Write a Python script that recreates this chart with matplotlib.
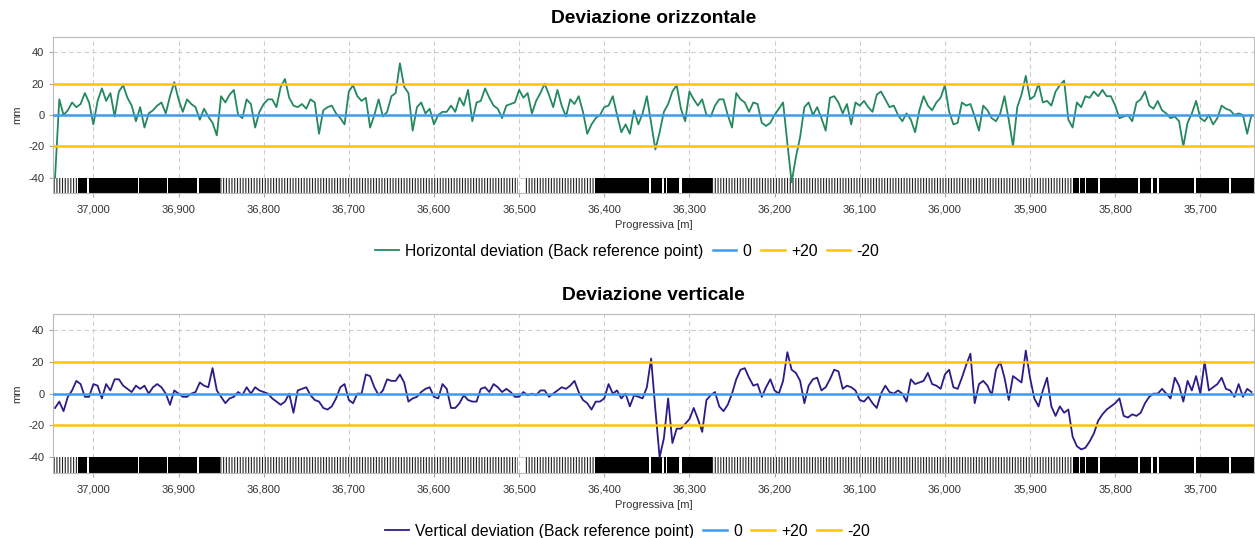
import numpy as np
import matplotlib
matplotlib.use('Agg')
import matplotlib.pyplot as plt
from matplotlib.ticker import FuncFormatter, MultipleLocator

plt.rcParams['font.family'] = ['Liberation Sans', 'DejaVu Sans']
plt.rcParams['hatch.linewidth'] = 0.8
plt.rcParams['axes.unicode_minus'] = False

# progressiva dei punti di misura [m], passo 5 m
chainage_start = 37045
chainage_step = 5

# deviazione orizzontale [mm]
horizontal_dev = [
    -40, 10, 0, 3, 8, 5, 7, 14, 8, -6, 9, 17, 9, 14, -1, 15, 19, 11, 6, -4,
    5, -8, 1, 3, 6, 8, 1, 12, 21, 10, 2, 10, 7, 5, -3, 4, -1, -5, -13, 12,
    8, 13, 16, 0, -2, 10,
    7, -8, 2, 7, 10, 10, 5, 18, 23, 11, 6, 5, 7, 4, 10, 8, -12, 3, 5, 6,
    1, -2, -6, 15, 19, 12, 9, 11, -8, 0, 10, -1, 2, 12, 14, 33, 18, 14, -10, 5,
    8, 1, 4, -6, 0, 2, 2,
    6, 2, 11, 6, 16, -4, 8, 9, 17, 11, 6, 4, -2, 6, 7, 8, 16, 11, 14, 1,
    9, 14, 20, 13, 5, 16, 6, -1, 10, 7, 12, 2, -12, -6, -2, 0, 5, 6, 12, 0,
    -11, -6, -12, 3, -6, 1, 12,
    -5, -22, -11, 2, 7, 15, 19, 4, -4, 15, 10, 6, 10, 0, -1, 6, 10, 10, 0, -8,
    14, 10, 8, 2, 8, 7, -5, -7, -5, 0, 4, 8, -18, -43, -27, -14, 5, 8, 0, 5,
    -2, -10, 11, 12, 8, 1, 7,
    -6, 8, 6, 9, 5, 2, 13, 15, 10, 5, 6, 0, -4, 1, -3, -11, 3, 12, 6, 3,
    8, 11, 19, 2, -6, -5, 8, 6, 7, -1, -10, 6, 3, -2, -4, 1, 12, -3, -20, 5,
    13, 25, 10, 12, 20, 8, 9,
    6, 15, 19, 22, -3, -8, 8, 5, 12, 11, 15, 12, 16, 12, 12, 6, -2, -1, 0, -4,
    8, 10, 15, 6, 4, 9, 3, 1, -2, -1, -4, -20, -5, 1, 9, -2, -4, 0, -6, -2,
    6, 4, 3, 0, 1, 0, -12, 0,
]

# deviazione verticale [mm]
vertical_dev = [
    -9, -5, -11, -2, 2, 8, 6, -2, -2, 6, 5, -3, 6, 2, 9, 9, 5, 3, 1, 5,
    3, 5, 0, 4, 6, 4, 0, -7, 2, 0, -2, -2, 0, 1, 7, 5, 4, 16, 2, -2,
    -6, -3, -2, 1, -1, 4,
    0, 4, 2, 1, 0, -3, -5, -7, -5, 0, -12, 2, 3, 4, -1, -4, -5, -9, -10, -8,
    -3, 4, 6, -4, -6, 0, 0, 12, 11, 4, -1, 2, 9, 8, 8, 12, 7, -5, -3, -2,
    1, 3, 4, -2, -3, 6, 3,
    -9, -9, -6, -1, -4, -5, -5, 3, 4, 1, 6, 4, 1, 3, 1, -2, -2, 1, -1, 0,
    -1, 2, 2, -2, 0, 2, 4, 3, 5, 8, 1, -4, -6, -10, -5, -5, -3, 6, 0, 2,
    -3, 0, -8, -1, -2, -3, 4,
    22, -10, -40, -28, -3, -31, -22, -22, -19, -16, -9, -16, -24, -4, -1, 1, -8, -11, -7, 0,
    9, 15, 16, 10, 5, 6, -2, 4, 9, 2, 0, 8, 26, 15, 13, 8, -6, 5, 9, 10,
    2, 4, 9, 15, 14, 3, 5,
    4, 2, -4, -5, -2, -6, -9, 0, 5, 1, 0, 2, 0, -5, 9, 6, 7, 8, 13, 6,
    5, 3, 12, 15, 4, 3, 10, 18, 25, -6, 6, 8, 5, -1, 15, 20, 10, -4, 11, 9,
    7, 27, 10, -3, -8, 2, 10,
    -8, -14, -8, -12, -10, -27, -33, -35, -34, -30, -25, -17, -13, -10, -8, -6, -3, -14, -15, -13,
    -14, -12, -6, -2, 0, 0, 3, 0, -3, 10, 5, -5, 8, 2, 11, 0, 20, 2, 4, 6,
    10, 3, 2, -2, 6, -2, 3, 1,
]

# tratti con misure fitte (barra nera) e rade (barra tratteggiata) [m]
dense_spans = [
    (37018, 37007), (37005, 36948), (36946, 36914), (36912, 36878), (36876, 36851),
    (36411, 36347), (36345, 36332), (36330, 36328), (36326, 36312), (36309, 36273),
    (35849, 35843), (35841, 35836), (35834, 35820), (35818, 35773), (35771, 35758),
    (35756, 35751), (35749, 35707), (35705, 35666), (35664, 35630),
]
sparse_spans = [(37050, 37018), (36851, 36501), (36493, 36411), (36273, 35849)]

# soglie
limit_values = [0, 20, -20]
limit_labels = ['0', '+20', '-20']
limit_colors = ['#3d9bf0', '#ffc400', '#ffc400']

x_left, x_right = 37047, 35637

chainage = chainage_start - chainage_step * np.arange(len(horizontal_dev))


def draw_panel(fig, rect, title, values, color, label, legend_y):
    ax = fig.add_axes(rect)

    # barra dei punti di misura
    ax.broken_barh([(s, e - s) for s, e in dense_spans], (-50, 10),
                   facecolors='black', edgecolor='none', zorder=1.5)
    ax.broken_barh([(s, e - s) for s, e in sparse_spans], (-50, 10),
                   facecolors='white', edgecolor='#222222', linewidth=0,
                   hatch='||||||', zorder=1.4)

    ax.plot(chainage, values, color=color, linewidth=1.3, label=label, zorder=2)
    for v, lab, c in zip(limit_values, limit_labels, limit_colors):
        ax.axhline(v, color=c, linewidth=1.8, label=lab, zorder=3)

    ax.set_xlim(x_left, x_right)
    ax.set_ylim(-50, 50)
    ax.set_yticks([-40, -20, 0, 20, 40])
    ax.xaxis.set_major_locator(MultipleLocator(100))
    ax.xaxis.set_major_formatter(FuncFormatter(lambda v, p: f'{v:,.0f}'))
    ax.grid(True, color='#cccccc', linestyle=(0, (4, 3)), linewidth=0.8)
    ax.set_axisbelow(True)
    ax.tick_params(labelsize=8, colors='#333333', length=3, color='#aaaaaa')
    ax.tick_params(axis='x', pad=5)
    for sp in ax.spines.values():
        sp.set_color('#bbbbbb')
    ax.set_xlabel('Progressiva [m]', fontsize=8, color='#333333', labelpad=4)
    ax.set_ylabel('mm', fontsize=8, color='#333333', labelpad=4)
    ax.set_title(title, fontsize=13.8, fontweight='bold', pad=10)

    ax.legend(loc='center', bbox_to_anchor=(0.5, legend_y), bbox_transform=fig.transFigure,
              ncol=4, frameon=False, fontsize=11.3, handlelength=1.5,
              handletextpad=0.4, columnspacing=0.6)
    return ax


fig = plt.figure(figsize=(12.55, 5.38), dpi=100)

draw_panel(fig, [0.0425, 0.6407, 0.9567, 0.2911], 'Deviazione orizzontale',
           horizontal_dev, '#23895d', 'Horizontal deviation (Back reference point)', 0.533)
draw_panel(fig, [0.0425, 0.1203, 0.9567, 0.2961], 'Deviazione verticale',
           vertical_dev, '#2d1b87', 'Vertical deviation (Back reference point)', 0.013)

fig.savefig('out.png', dpi=100)
